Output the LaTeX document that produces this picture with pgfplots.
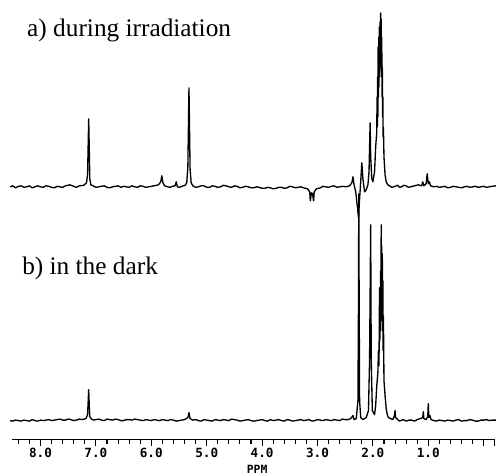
\documentclass[border=0pt]{standalone}
\usepackage{pgfplots}
\usepackage{pgfplotstable}
\pgfplotsset{compat=1.18}
\usepackage{fontspec}
\setmainfont{Liberation Serif}
\newfontfamily\plotfont{DejaVu Sans Mono}

% trace a) during irradiation: ppm, height above baseline (px)
\pgfplotstableread{
ppm dy
8.55 0
8.50 1
8.45 -1
8.40 0.5
8.35 1
8.30 -0.5
8.25 0
8.20 1
8.15 -1
8.10 0
8.05 1
8.00 0
7.95 -0.5
7.90 1
7.85 0.5
7.80 -0.5
7.75 -1
7.70 0.5
7.65 0
7.60 -0.5
7.55 1
7.47 2
7.40 0.5
7.35 -0.5
7.30 1
7.22 1.5
7.17 4
7.15 12
7.14 40
7.13 68
7.12 40
7.11 8
7.09 2
7.05 1
7.00 -0.5
6.95 0
6.90 0.5
6.85 1
6.80 -0.5
6.75 -1
6.70 0
6.65 0.5
6.60 1
6.55 -0.5
6.50 0.5
6.45 0
6.40 -0.5
6.35 1
6.30 0
6.25 -0.5
6.20 1
6.15 0.5
6.10 -0.5
6.05 0
6.00 0.5
5.95 1
5.87 2
5.83 5
5.81 11
5.79 4
5.76 1
5.70 0
5.66 -0.5
5.62 0.5
5.57 1
5.55 5
5.53 0
5.49 -0.5
5.45 0.5
5.39 1.5
5.36 4
5.34 20
5.33 60
5.32 99
5.31 60
5.30 18
5.28 4
5.25 1
5.20 -0.5
5.15 0
5.10 1
5.05 1
5.00 -0.5
4.95 -0.5
4.90 1
4.85 0.5
4.80 -0.5
4.75 0
4.70 1.5
4.65 1
4.60 0
4.55 -0.5
4.50 1
4.45 0.5
4.40 -1
4.35 -0.5
4.30 0.5
4.25 0
4.20 -1
4.15 -1
4.10 0
4.05 -0.5
4.00 -1.5
3.95 -1.5
3.90 -0.5
3.85 -1
3.80 -2
3.75 -1.5
3.70 -0.5
3.65 -0.5
3.60 -1.5
3.55 -1
3.50 0.5
3.45 0
3.40 -1
3.35 -0.5
3.30 0
3.25 -1
3.18 -2
3.14 -5
3.13 -14
3.11 -6
3.09 -7
3.07 -14
3.06 -5
3.02 -2
2.98 -1.5
2.95 -1
2.90 0.5
2.85 0
2.80 -0.5
2.75 0.5
2.70 1
2.65 -0.5
2.60 0
2.55 0.5
2.48 0
2.42 1
2.38 4
2.36 10
2.34 2
2.31 -5
2.28 -20
2.26 -31
2.24 -12
2.22 5
2.20 24
2.18 8
2.15 -5
2.12 -3
2.09 2
2.07 15
2.06 40
2.05 64
2.04 30
2.02 8
2.00 5
1.97 15
1.95 40
1.93 55
1.925 90
1.92 60
1.915 110
1.91 70
1.905 140
1.90 90
1.895 150
1.89 100
1.885 160
1.88 110
1.875 150
1.87 165
1.865 120
1.86 174
1.855 130
1.85 168
1.845 110
1.84 150
1.835 90
1.83 120
1.825 70
1.82 90
1.815 50
1.81 60
1.80 30
1.78 12
1.76 5
1.73 2
1.70 1
1.66 -0.5
1.62 0
1.58 1
1.55 1.5
1.52 -0.5
1.48 0
1.44 1.5
1.40 1
1.36 -0.5
1.32 0
1.28 0.5
1.25 1
1.18 2
1.12 1
1.10 5
1.08 1
1.04 3
1.02 13
1.00 3
0.98 5
0.96 1
0.90 0
0.85 0.5
0.80 -0.5
0.75 0
0.70 0.5
0.65 -1
0.60 -0.5
0.55 0.5
0.50 0
0.45 -0.5
0.40 -1
0.35 0
0.30 0.5
0.25 -0.5
0.20 0
0.15 0.5
0.10 -0.5
0.05 0
0.00 0.5
-0.05 -0.5
-0.10 0
-0.15 0.5
-0.22 1
}\traceA

% trace b) in the dark
\pgfplotstableread{
ppm dy
8.55 0
8.50 -0.5
8.45 0.5
8.40 0
8.35 -0.5
8.30 0.5
8.25 0
8.20 -0.5
8.15 1
8.10 0
8.05 -0.5
8.00 0.5
7.95 0
7.90 0.5
7.85 1
7.80 0
7.75 0.5
7.70 1
7.65 1.5
7.60 0.5
7.55 0.5
7.50 1.5
7.45 1
7.40 0
7.35 0.5
7.30 1.5
7.25 1
7.18 2
7.15 6
7.14 18
7.13 31
7.12 15
7.11 4
7.08 1.5
7.04 0.5
7.00 1
6.95 1.5
6.90 0.5
6.85 0
6.80 1.5
6.75 1
6.70 0.5
6.65 1.5
6.60 1
6.55 0
6.50 0
6.45 1
6.40 1
6.35 0.5
6.30 1.5
6.25 1
6.20 0.5
6.15 0
6.10 1
6.05 0.5
6.00 0
5.95 1
5.90 0.5
5.85 0
5.80 1
5.75 0.5
5.70 0
5.65 1
5.60 0.5
5.55 -0.5
5.50 0
5.45 0.5
5.40 1
5.34 3
5.32 8
5.30 2
5.25 0.5
5.20 1
5.15 0
5.10 -0.5
5.05 1
5.00 0.5
4.95 0
4.90 -0.5
4.85 1
4.80 0.5
4.75 0
4.70 1
4.65 0.5
4.60 0
4.55 1.5
4.50 1
4.45 0.5
4.40 -0.5
4.35 0
4.30 0.5
4.25 1
4.20 0
4.15 -0.5
4.10 0
4.05 0.5
4.00 1
3.95 0
3.90 -0.5
3.85 1
3.80 0
3.75 0.5
3.70 1
3.65 0
3.60 -0.5
3.55 1
3.50 0.5
3.45 -0.5
3.40 0
3.35 0.5
3.30 1
3.25 0
3.20 0.5
3.15 1
3.10 -0.5
3.05 0
3.00 1
2.95 0.5
2.90 0
2.85 1
2.80 0.5
2.75 0
2.70 1
2.65 0.5
2.60 0
2.55 1.5
2.50 1
2.45 1
2.40 2
2.36 5
2.34 1
2.30 2
2.27 20
2.26 120
2.255 227
2.25 150
2.24 20
2.22 3
2.18 1
2.15 2
2.12 3
2.08 10
2.06 60
2.04 196
2.03 60
2.01 10
1.99 8
1.97 6
1.95 15
1.93 35
1.91 48
1.90 70
1.89 55
1.88 133
1.875 80
1.87 120
1.865 90
1.86 150
1.855 110
1.85 196
1.845 120
1.84 175
1.835 100
1.83 167
1.825 90
1.82 140
1.815 70
1.81 105
1.80 40
1.78 25
1.76 12
1.74 6
1.72 3
1.68 2
1.64 1
1.61 5
1.60 10
1.59 3
1.55 1
1.52 -0.5
1.50 0
1.45 1
1.42 0
1.40 -0.5
1.35 0.5
1.30 0.5
1.25 -0.5
1.20 1
1.15 2
1.10 3
1.09 9
1.08 2
1.04 1
1.01 4
1.00 17
0.99 3
0.97 5
0.95 1
0.90 0
0.85 -0.5
0.80 0.5
0.75 0
0.70 -0.5
0.65 0.5
0.60 0
0.55 -0.5
0.50 0.5
0.45 1
0.40 -0.5
0.35 0
0.30 0
0.25 1
0.20 0.5
0.15 -0.5
0.10 -0.5
0.05 0.5
0.00 0.5
-0.05 1
-0.10 0
-0.15 0.5
-0.22 0.5
}\traceB

\begin{document}
\begin{tikzpicture}
\begin{axis}[
  width=362.25pt,
  height=330pt,
  scale only axis,
  xmin=-0.2, xmax=8.51,
  x dir=reverse,
  ymin=0, ymax=440,
  axis x line*=bottom,
  axis y line=none,
  clip=false,
  xtick={0,1,2,3,4,5,6,7,8},
  xticklabels={{},1.0,2.0,3.0,4.0,5.0,6.0,7.0,8.0},
  extra x ticks={-0.2},
  extra x tick labels={},
  minor xtick={0.2,0.4,0.6,0.8,1.2,1.4,1.6,1.8,2.2,2.4,2.6,2.8,3.2,3.4,3.6,3.8,4.2,4.4,4.6,4.8,5.2,5.4,5.6,5.8,6.2,6.4,6.6,6.8,7.2,7.4,7.6,7.8,8.2,8.4},
  tick align=outside,
  major tick length=5pt,
  minor tick length=3pt,
  tick style={black, line width=0.8pt},
  axis line style={black, line width=1pt},
  xticklabel style={font=\plotfont\bfseries\fontsize{9.5}{10}\selectfont, inner sep=1pt},
]
\addplot[black, line width=1pt, line join=round]
  table[x=ppm, y expr=\thisrow{dy}+253] {\traceA};
\addplot[black, line width=1pt, line join=round]
  table[x=ppm, y expr=\thisrow{dy}+19] {\traceB};
\node[anchor=base west, inner sep=0pt, font=\fontsize{19}{21}\selectfont]
  at (axis cs:8.244,403) {a) during irradiation};
\node[anchor=base west, inner sep=0pt, font=\fontsize{19}{21}\selectfont]
  at (axis cs:8.334,165) {b) in the dark};
\node[inner sep=0pt, font=\plotfont\bfseries\fontsize{8.5}{9}\selectfont]
  at (axis cs:4.09,-30) {PPM};
\coordinate (bbA) at (axis cs:8.731,440);
\coordinate (bbB) at (axis cs:-0.222,-35);
\end{axis}
\pgfresetboundingbox
\path[use as bounding box] (bbA) rectangle (bbB);
\end{tikzpicture}
\end{document}
